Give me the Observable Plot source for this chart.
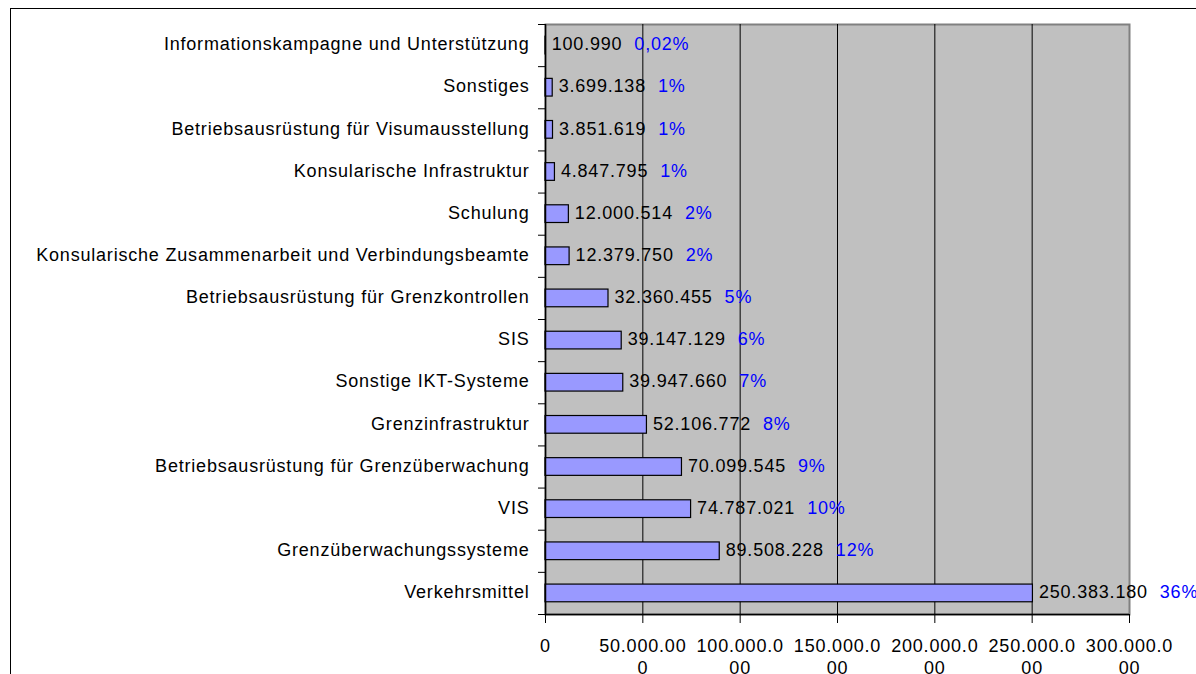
<!DOCTYPE html>
<html><head><meta charset="utf-8">
<script src="https://cdn.jsdelivr.net/npm/d3@7"></script>
<script src="https://cdn.jsdelivr.net/npm/@observablehq/plot@0.6"></script>
<style>
html,body{margin:0;padding:0;background:#fff;}
#wrap{position:relative;width:1196px;height:674px;overflow:hidden;font-family:"Liberation Sans",Arial,sans-serif;}
#border{position:absolute;left:10px;top:8px;right:-4px;bottom:-4px;border-top:1.5px solid #000;border-left:1.5px solid #000;pointer-events:none;}
</style></head><body>
<div id="wrap"><div id="border"></div></div>
<script>
const categories = [
  "Informationskampagne und Unterstützung",
  "Sonstiges",
  "Betriebsausrüstung für Visumausstellung",
  "Konsularische Infrastruktur",
  "Schulung",
  "Konsularische Zusammenarbeit und Verbindungsbeamte",
  "Betriebsausrüstung für Grenzkontrollen",
  "SIS",
  "Sonstige IKT-Systeme",
  "Grenzinfrastruktur",
  "Betriebsausrüstung für Grenzüberwachung",
  "VIS",
  "Grenzüberwachungssysteme",
  "Verkehrsmittel"
];
const values = [100990, 3699138, 3851619, 4847795, 12000514, 12379750, 32360455, 39147129, 39947660, 52106772, 70099545, 74787021, 89508228, 250383180];
const shares = ["0,02%", "1%", "1%", "1%", "2%", "2%", "5%", "6%", "7%", "8%", "9%", "10%", "12%", "36%"];
const xTicks = [0, 50000000, 100000000, 150000000, 200000000, 250000000, 300000000];
const gridLines = [50000000, 100000000, 150000000, 200000000, 250000000];

const fmt = v => String(v).replace(/\B(?=(\d{3})+(?!\d))/g, ".");
const tickLabel = v => { const s = fmt(v); return s.length > 9 ? s.slice(0, 9) + "\n" + s.slice(9) : s; };

const rows = categories.map((c, i) => ({cat: c, i, value: values[i], share: shares[i], label: fmt(values[i])}));

const LS = 0.8;
const FONT = '18px "Liberation Sans", Arial, sans-serif';
const ctx = document.createElement("canvas").getContext("2d");
ctx.font = FONT;
const textW = s => ctx.measureText(s).width + s.length * LS;

const pctMarks = rows.map(r => Plot.text([r], {
  x: "value", y: d => d.i + 0.5, text: "share", textAnchor: "start",
  dx: 6 + textW(r.label) + 12, dy: -1, fill: "#0000ff"
}));

const chart = Plot.plot({
  width: 1196, height: 674,
  marginLeft: 545, marginRight: 67, marginTop: 24, marginBottom: 60,
  style: {fontFamily: '"Liberation Sans", Arial, sans-serif', fontSize: "18px", letterSpacing: LS + "px", background: "transparent", color: "#000"},
  x: {domain: [0, 300000000], nice: false, label: null},
  y: {domain: [0, 14], reverse: true, label: null},
  marks: [
    Plot.frame({fill: "#C0C0C0", stroke: "#808080", strokeWidth: 2}),
    Plot.ruleX(gridLines, {stroke: "#000", strokeWidth: 1}),
    Plot.rectX(rows, {x1: d => 0, x2: "value", y1: d => d.i + 0.29, y2: d => d.i + 0.71, fill: "#9999FF", stroke: "#000", strokeWidth: 1.2}),
    Plot.text(rows, {x: "value", y: d => d.i + 0.5, text: "label", textAnchor: "start", dx: 6, dy: -1, fill: "#000"}),
    ...pctMarks,
    Plot.ruleX([0], {stroke: "#000", strokeWidth: 1.5}),
    Plot.ruleY([14], {stroke: "#000", strokeWidth: 1.5}),
    Plot.axisY({ticks: d3.range(14).map(i => i + 0.5), tickFormat: v => categories[Math.floor(v)], tickSize: 0, tickPadding: 16, dy: -1, label: null}),
    Plot.axisY({ticks: d3.range(15), tickSize: 7, tickFormat: () => "", stroke: "#000", label: null}),
    Plot.axisX({ticks: xTicks, tickSize: 9, tickFormat: () => "", stroke: "#000", label: null}),
    Plot.text(xTicks, {x: d => d, text: d => tickLabel(d), frameAnchor: "bottom", lineAnchor: "top", dy: 22, lineHeight: 1.22, fill: "#000"})
  ]
});
document.getElementById("wrap").appendChild(chart);
</script>
</body></html>
